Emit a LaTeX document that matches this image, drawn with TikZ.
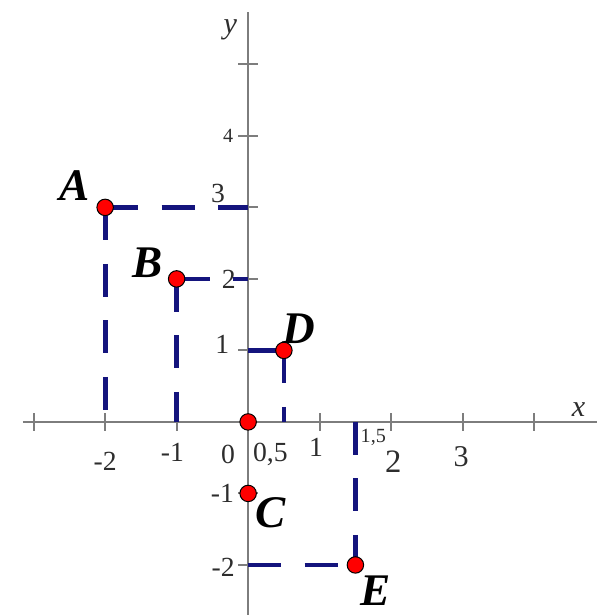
\documentclass[tikz,border=0pt]{standalone}
\usepackage{fontspec}
\setmainfont{Liberation Serif}
\definecolor{marinho}{RGB}{20,20,125}
\definecolor{cinzaeixo}{RGB}{125,125,125}
\definecolor{rotulo}{RGB}{45,45,45}

\begin{document}
\begin{tikzpicture}[
    eixo/.style={draw=cinzaeixo, line width=0.8pt},
    proj/.style={draw=marinho, line width=1.9pt, dash pattern=on 0.46cm off 0.33cm},
    ponto/.style={circle, fill=red, draw=black, line width=0.4pt, inner sep=0pt, minimum size=0.23cm},
    letra/.style={font=\fontsize{18}{18}\selectfont\bfseries\itshape},
    num/.style={text=rotulo, font=\fontsize{11}{11}\selectfont},
    numpeq/.style={text=rotulo, font=\fontsize{8}{8}\selectfont},
    nomeeixo/.style={text=rotulo, font=\fontsize{12}{12}\selectfont\itshape}]

    \useasboundingbox (-3.47,-2.70) rectangle (4.88,5.90);
    % Eixos
    \coordinate (xini) at (-3.15,0);
    \coordinate (xfim) at (4.88,0);
    \coordinate (yini) at (0,-2.70);
    \coordinate (yfim) at (0,5.73);
    \draw[eixo] (xini) -- (xfim);
    \draw[eixo] (yini) -- (yfim);
    \node[nomeeixo] (rx) at (4.62,0.17) {x};
    \node[nomeeixo] (ry) at (-0.25,5.48) {y};
    % Marcas no eixo x
    \draw[eixo] (-3,-0.12) -- (-3,0.12);
    \draw[eixo] (-2,-0.12) -- (-2,0.12);
    \draw[eixo] (-1,-0.12) -- (-1,0.12);
    \draw[eixo] (1,-0.12) -- (1,0.12);
    \draw[eixo] (2,-0.12) -- (2,0.12);
    \draw[eixo] (3,-0.12) -- (3,0.12);
    \draw[eixo] (4,-0.12) -- (4,0.12);
    % Marcas no eixo y
    \draw[eixo] (-0.14,1) -- (0.14,1);
    \draw[eixo] (-0.14,2) -- (0.14,2);
    \draw[eixo] (-0.14,3) -- (0.14,3);
    \draw[eixo] (-0.14,4) -- (0.14,4);
    \draw[eixo] (-0.14,5) -- (0.14,5);
    \draw[eixo] (-0.14,-1) -- (0.14,-1);
    \draw[eixo] (-0.14,-2) -- (0.14,-2);
    % Numeros do eixo x
    \node[num] (nxm2) at (-2.0,-0.55) {-2};
    \node[num] (nxm1) at (-1.06,-0.42) {-1};
    \node[num] (nx0) at (-0.28,-0.46) {0};
    \node[num] (nx05) at (0.31,-0.46) {0,5};
    \node[num] (nx1) at (0.95,-0.36) {1};
    \node[numpeq] (nx15) at (1.75,-0.21) {1,5};
    \node[num, font=\fontsize{13}{13}\selectfont] (nx2) at (2.03,-0.56) {2};
    \node[num, font=\fontsize{12}{12}\selectfont] (nx3) at (2.98,-0.48) {3};
    % Numeros do eixo y
    \node[num] (ny1) at (-0.36,1.08) {1};
    \node[num] (ny2) at (-0.27,2.0) {2};
    \node[num] (ny3) at (-0.42,3.2) {3};
    \node[numpeq] (ny4) at (-0.28,4.0) {4};
    \node[num] (nym1) at (-0.36,-1.0) {-1};
    \node[num] (nym2) at (-0.35,-2.03) {-2};
    % Pontos e projecoes
    \coordinate (A) at (-2,3);
    \coordinate (Ax) at (-2,0);
    \coordinate (Ay) at (0,3);
    \coordinate (B) at (-1,2);
    \coordinate (Bx) at (-1,0);
    \coordinate (By) at (0,2);
    \coordinate (D) at (0.5,1);
    \coordinate (Dx) at (0.5,0);
    \coordinate (Dy) at (0,1);
    \coordinate (E) at (1.5,-2);
    \coordinate (Ex) at (1.5,0);
    \coordinate (Ey) at (0,-2);
    \coordinate (C) at (0,-1);
    \coordinate (O) at (0,0);
    \draw[proj] (A) -- (Ay);
    \draw[proj] (A) -- (Ax);
    \draw[proj] (B) -- (By);
    \draw[proj] (B) -- (Bx);
    \draw[proj] (Dy) -- (D);
    \draw[proj] (D) -- (Dx);
    \draw[proj] (Ey) -- (E);
    \draw[proj] (Ex) -- (E);
    % Bolinhas vermelhas
    \node[ponto] (pA) at (A) {};
    \node[ponto] (pB) at (B) {};
    \node[ponto] (pD) at (D) {};
    \node[ponto] (pE) at (E) {};
    \node[ponto] (pC) at (C) {};
    \node[ponto] (pO) at (O) {};
    % Letras
    \node[letra] (lA) at (-2.42,3.30) {A};
    \node[letra] (lB) at (-1.40,2.22) {B};
    \node[letra] (lD) at (0.71,1.31) {D};
    \node[letra] (lC) at (0.31,-1.27) {C};
    \node[letra] (lE) at (1.78,-2.36) {E};
\end{tikzpicture}
\end{document}
